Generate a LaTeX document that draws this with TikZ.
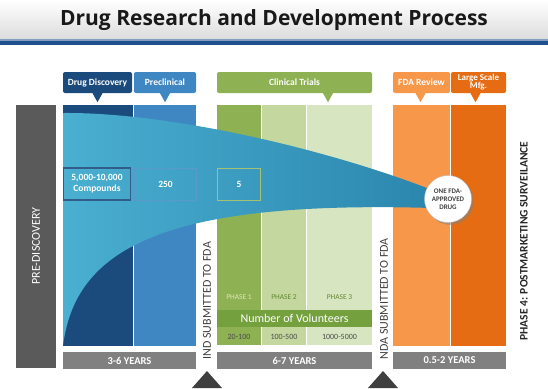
\documentclass[tikz,border=0pt]{standalone}
\usepackage{fontspec}
\setmainfont{Carlito}
\newfontfamily\titlefont{Open Sans}
\usetikzlibrary{shadows}
\definecolor{navy}{HTML}{1B4A7C}
\definecolor{preblue}{HTML}{3E87C3}
\definecolor{funL}{HTML}{4AAFD1}
\definecolor{funR}{HTML}{2B86AD}
\definecolor{trialgreen}{HTML}{8DB153}
\definecolor{ph2green}{HTML}{C3D79E}
\definecolor{ph3green}{HTML}{D8E5C1}
\definecolor{volgreen}{HTML}{74A03D}
\definecolor{fdaorange}{HTML}{F6974A}
\definecolor{mfgorange}{HTML}{E56C12}
\definecolor{predark}{HTML}{5A5A5A}
\definecolor{yeargrey}{HTML}{808080}
\definecolor{markgrey}{HTML}{3F3F3F}
\definecolor{bandblue}{HTML}{1F4F8C}

\begin{document}
\begin{tikzpicture}[x=1pt,y=-1pt,
  hdr/.style={rectangle,rounded corners=2pt,text=white,inner sep=1pt,
    minimum height=21pt,font=\bfseries\fontsize{9.5}{9.5}\selectfont,align=center},
  yearbar/.style={rectangle,fill=yeargrey,text=white,minimum height=17pt,
    inner sep=0pt,font=\bfseries\fontsize{10.5}{10.5}\selectfont},
  countbox/.style={rectangle,minimum height=32pt,inner sep=0pt,text=white,
    align=center,font=\bfseries\fontsize{9.5}{11}\selectfont},
  phaselbl/.style={font=\fontsize{7.5}{7.5}\selectfont},
  vollbl/.style={text=black!70,font=\fontsize{8}{8}\selectfont},
  sidelbl/.style={rotate=90,anchor=west,font=\fontsize{12}{12}\selectfont}]
\useasboundingbox (0,0) rectangle (548,388);
% title band
\shade[top color=white,bottom color=black!14] (0,0) rectangle (548,40);
\fill[bandblue!55] (0,39) rectangle (548,41);
\fill[bandblue] (0,41) rectangle (548,45);
\node[font=\titlefont\bfseries\fontsize{21}{21}\selectfont,text=black!90] (title) at (274,20) {Drug Research and Development Process};
%
% headers
\node[hdr,fill=navy,minimum width=69pt] (hdisc) at (97.5,82.5) {Drug Discovery};
\node[hdr,fill=preblue,minimum width=62pt] (hpre) at (165,82.5) {Preclinical};
\node[hdr,fill=trialgreen,minimum width=155pt] (htrial) at (294.5,82.5) {Clinical Trials};
\node[hdr,fill=fdaorange,minimum width=57pt] (hfda) at (421.5,82.5) {FDA Review};
\node[hdr,fill=mfgorange,minimum width=55pt,font=\bfseries\fontsize{9}{8}\selectfont] (hmfg) at (478.5,82.5) {Large Scale\\Mfg.};
\fill[navy] ([xshift=-5pt]hdisc.south)--([xshift=5pt]hdisc.south)--([yshift=-9pt]hdisc.south)--cycle;
\fill[preblue] ([xshift=-5pt]hpre.south)--([xshift=5pt]hpre.south)--([yshift=-9pt]hpre.south)--cycle;
\fill[trialgreen] ([xshift=28.5pt]htrial.south)--([xshift=38.5pt]htrial.south)--([xshift=33.5pt,yshift=-9pt]htrial.south)--cycle;
\fill[fdaorange] ([xshift=-6pt]hfda.south)--([xshift=4pt]hfda.south)--([xshift=-1pt,yshift=-9pt]hfda.south)--cycle;
\fill[mfgorange] ([xshift=-8pt]hmfg.south)--([xshift=2pt]hmfg.south)--([xshift=-3pt,yshift=-9pt]hmfg.south)--cycle;
%
% columns
\fill[predark] (16,105) rectangle (56,368);
\fill[navy] (63,105) rectangle (133,346);
\fill[preblue] (134,105) rectangle (196,346);
\fill[trialgreen] (217,105) rectangle (261,345);
\fill[ph2green] (262,105) rectangle (306,345);
\fill[ph3green] (307,105) rectangle (372,345);
\fill[fdaorange] (393,105) rectangle (450,346);
\fill[mfgorange] (451,105) rectangle (506,346);
%
% phases and volunteers
\node[phaselbl,text=yellow!30!trialgreen!40] (p1) at (239,297) {PHASE 1};
\node[phaselbl,text=volgreen!85!black] (p2) at (284,297) {PHASE 2};
\node[phaselbl,text=volgreen!85!black] (p3) at (339.5,297) {PHASE 3};
\node[fill=volgreen,minimum width=155pt,minimum height=17pt,inner sep=0pt,text=white,
  font=\fontsize{12}{12}\selectfont] (vol) at (294.5,318.5) {Number of Volunteers};
\node[vollbl] (v1) at (239,336.5) {20-100};
\node[vollbl] (v2) at (284,336.5) {100-500};
\node[vollbl] (v3) at (339.5,336.5) {1000-5000};
%
% funnel
\shade[left color=funL,right color=funR] (63,113) .. controls (170,112) and (330,150) .. (432,190)
  -- (432,208) .. controls (160,200) and (75,250) .. (63,346) -- cycle;
\node[countbox,draw=navy!90,line width=1.3pt,minimum width=67pt] (cmp) at (97,184) {5,000-10,000\\Compounds};
\node[countbox,draw=preblue!85,line width=0.6pt,minimum width=62pt] (c250) at (165.5,184) {250};
\node[countbox,draw=trialgreen!80,line width=0.6pt,minimum width=43pt] (c5) at (239,184) {5};
\node[circle,fill=white,draw=black!25,minimum size=47pt,inner sep=0pt,drop shadow,align=center,
  text=black!75,font=\bfseries\fontsize{7}{8}\selectfont] (drug) at (448,199) {ONE FDA-\\APPROVED\\DRUG};
%
% year bars
\node[yearbar,minimum width=133pt] (y1) at (129.5,360.5) {3-6 YEARS};
\node[yearbar,minimum width=155pt] (y2) at (294.5,360.5) {6-7 YEARS};
\node[yearbar,minimum width=113pt] (y3) at (449.5,360.5) {0.5-2 YEARS};
%
% side texts and markers
\node[sidelbl,text=white,anchor=center] (pre) at (36,246) {PRE-DISCOVERY};
\node[sidelbl,text=markgrey] (ind) at (207,363) {IND SUBMITTED TO FDA};
\node[sidelbl,text=markgrey] (nda) at (384,363) {NDA SUBMITTED TO FDA};
\node[sidelbl,text=black!85,font=\bfseries\fontsize{11.5}{11.5}\selectfont] (ph4) at (524,344) {PHASE 4: POSTMARKETING SURVEILANCE};
\fill[markgrey] (192,388)--(207,371)--(222,388)--cycle;
\fill[markgrey] (368,388)--(383,371)--(398,388)--cycle;
\end{tikzpicture}
\end{document}
